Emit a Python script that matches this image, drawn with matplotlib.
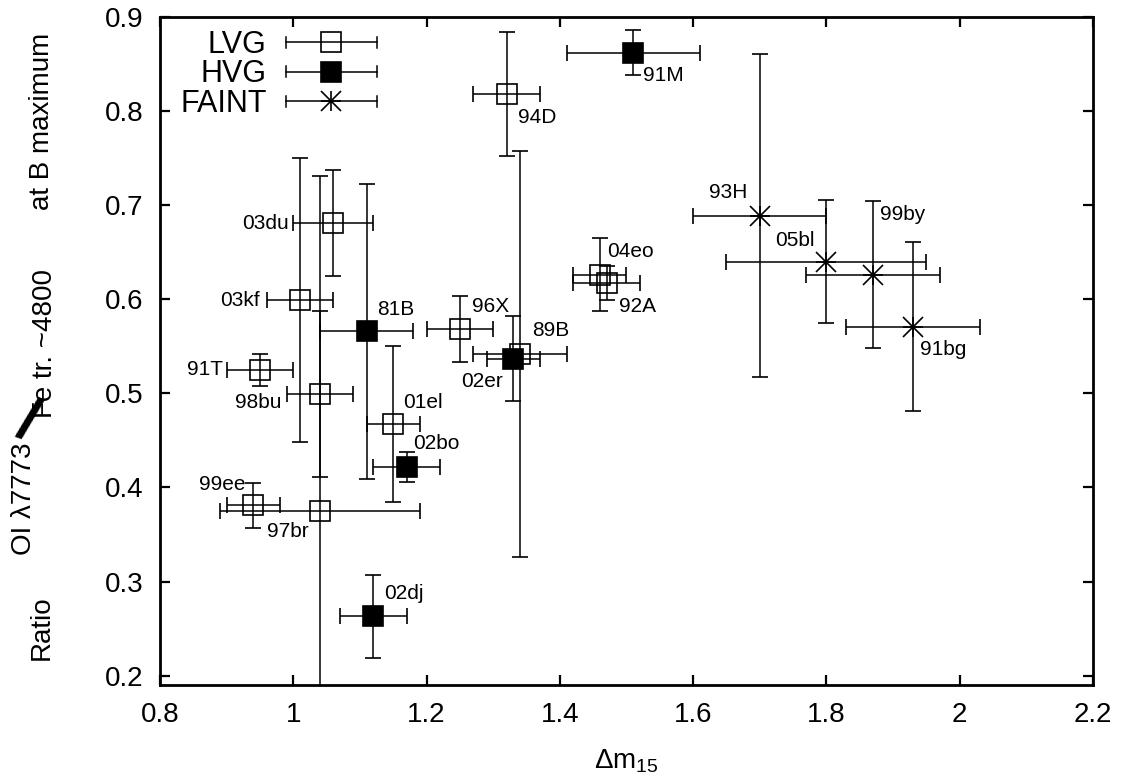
import matplotlib
matplotlib.use("Agg")
import matplotlib.pyplot as plt
from matplotlib.lines import Line2D
from matplotlib.legend_handler import HandlerBase

plt.rcParams['font.family'] = ['Liberation Sans', 'DejaVu Sans']
plt.rcParams['mathtext.fontset'] = 'custom'
plt.rcParams['mathtext.rm'] = 'Liberation Sans'
plt.rcParams['mathtext.it'] = 'Liberation Sans:italic'

# ---------------- data ----------------
lvg_names = ['94D', '03du', '03kf', '91T', '98bu', '01el', '99ee', '97br', '96X', '89B', '04eo', '92A']
lvg_x = [1.32, 1.06, 1.01, 0.95, 1.04, 1.15, 0.94, 1.04, 1.25, 1.34, 1.46, 1.47]
lvg_xerr = [0.05, 0.06, 0.05, 0.05, 0.05, 0.04, 0.04, 0.15, 0.05, 0.07, 0.04, 0.05]
lvg_y = [0.818, 0.681, 0.599, 0.525, 0.499, 0.467, 0.381, 0.375, 0.568, 0.542, 0.626, 0.617]
lvg_yerr = [0.066, 0.056, 0.151, 0.017, 0.088, 0.083, 0.024, 0.356, 0.035, 0.216, 0.039, 0.018]

hvg_names = ['91M', '81B', '02bo', '02dj', '02er']
hvg_x = [1.51, 1.11, 1.17, 1.12, 1.33]
hvg_xerr = [0.10, 0.07, 0.05, 0.05, 0.04]
hvg_y = [0.862, 0.566, 0.422, 0.263, 0.537]
hvg_yerr = [0.024, 0.157, 0.016, 0.044, 0.045]

faint_names = ['93H', '05bl', '99by', '91bg']
faint_x = [1.70, 1.80, 1.87, 1.93]
faint_xerr = [0.10, 0.15, 0.10, 0.10]
faint_y = [0.689, 0.640, 0.626, 0.571]
faint_yerr = [0.172, 0.065, 0.078, 0.090]

x_ticks = [0.8, 1.0, 1.2, 1.4, 1.6, 1.8, 2.0, 2.2]
x_ticklabels = ['0.8', '1', '1.2', '1.4', '1.6', '1.8', '2', '2.2']
y_ticks = [0.2, 0.3, 0.4, 0.5, 0.6, 0.7, 0.8, 0.9]

# label placement (offset in pixels, horizontal alignment)
label_style = {
    '94D': (11, -23, 'left'), '91M': (10, -23, 'left'), '03du': (-44, 0, 'right'),
    '03kf': (-40, 0, 'right'), '81B': (11, 22, 'left'), '91T': (-37, 0, 'right'),
    '98bu': (-38, -8, 'right'), '01el': (10, 22, 'left'), '02bo': (7, 23, 'left'),
    '99ee': (-8, 21, 'right'), '97br': (-11, -21, 'right'), '02dj': (11, 23, 'left'),
    '96X': (12, 23, 'left'), '89B': (12, 23, 'left'), '02er': (-10, -23, 'right'),
    '04eo': (7, 23, 'left'), '92A': (12, -23, 'left'), '93H': (-12, 23, 'right'),
    '99by': (7, 60, 'left'), '05bl': (-12, 21, 'right'), '91bg': (7, -23, 'left'),
}

# ---------------- figure ----------------
fig = plt.figure(figsize=(11.26, 7.82), dpi=100)
ax = fig.add_axes([160 / 1126, 97 / 782, 933 / 1126, 668 / 782])

eb_kw = dict(ecolor='black', elinewidth=1.1, capsize=6, capthick=1.1, linestyle='none')

ax.errorbar(lvg_x, lvg_y, xerr=lvg_xerr, yerr=lvg_yerr, marker='s', markersize=14,
            mfc='none', mec='black', mew=1.2, **eb_kw)
ax.errorbar(hvg_x, hvg_y, xerr=hvg_xerr, yerr=hvg_yerr, marker='s', markersize=14,
            mfc='black', mec='black', mew=1.2, **eb_kw)
ax.errorbar(faint_x, faint_y, xerr=faint_xerr, yerr=faint_yerr, marker='x', markersize=14,
            mfc='black', mec='black', mew=1.2, **eb_kw)
ax.plot(faint_x, faint_y, linestyle='none', marker='+', markersize=14, mec='black', mew=1.2)

for names, xs, ys in ((lvg_names, lvg_x, lvg_y), (hvg_names, hvg_x, hvg_y),
                      (faint_names, faint_x, faint_y)):
    for n, xv, yv in zip(names, xs, ys):
        dx, dy, ha = label_style[n]
        ax.annotate(n, (xv, yv), xytext=(dx, dy), textcoords='offset pixels',
                    ha=ha, va='center', fontsize=15)

ax.set_xlim(0.8, 2.2)
ax.set_ylim(0.19, 0.9)
ax.set_xticks(x_ticks)
ax.set_xticklabels(x_ticklabels)
ax.set_yticks(y_ticks)
ax.set_yticklabels([f'{v:.1f}' for v in y_ticks])
ax.tick_params(direction='in', length=7, width=1.6, top=True, right=True,
               labelsize=20, pad=12)
for s in ax.spines.values():
    s.set_linewidth(2.0)

ax.set_xlabel('Δm$_{\\mathrm{15}}$', fontsize=20, labelpad=14)


# ---------------- legend ----------------
class HandlerEB(HandlerBase):
    def __init__(self, marker, mfc, extra=None):
        super().__init__()
        self.marker = marker
        self.mfc = mfc
        self.extra = extra

    def create_artists(self, legend, orig_handle, xdescent, ydescent, width, height,
                       fontsize, trans):
        y = height / 2 - ydescent
        x0, x1 = -xdescent, width - xdescent
        arts = [Line2D([x0, x1], [y, y], color='black', lw=1.1, transform=trans),
                Line2D([x0, x0], [y - 4, y + 4], color='black', lw=1.1, transform=trans),
                Line2D([x1, x1], [y - 4, y + 4], color='black', lw=1.1, transform=trans),
                Line2D([(x0 + x1) / 2], [y], marker=self.marker, markersize=14,
                       mfc=self.mfc, mec='black', mew=1.2, linestyle='none', transform=trans)]
        if self.extra:
            arts.append(Line2D([(x0 + x1) / 2], [y], marker=self.extra, markersize=14,
                               mec='black', mew=1.2, linestyle='none', transform=trans))
        return arts


h1, h2, h3 = Line2D([], []), Line2D([], []), Line2D([], [])
ax.legend([h1, h2, h3], ['LVG', 'HVG', 'FAINT'],
          handler_map={h1: HandlerEB('s', 'none'), h2: HandlerEB('s', 'black'),
                       h3: HandlerEB('x', 'black', '+')},
          loc='upper left', bbox_to_anchor=(0.015, 0.99), frameon=False, markerfirst=False,
          fontsize=22, handlelength=3.0, handletextpad=0.62, labelspacing=-0.01,
          borderaxespad=0.0, borderpad=0.2)

# ---------------- y label pieces ----------------
fig.text(42 / 1126, 1 - 628 / 782, 'Ratio', rotation=90, ha='center', va='center', fontsize=20)
fig.text(24 / 1126, 1 - 499 / 782, 'OI λ7773', rotation=90, ha='center', va='center', fontsize=20)
fig.text(27 / 1126, 1 - 423 / 782, '/', rotation=-20, ha='center', va='center', fontsize=44,
         fontweight='bold')
fig.text(45 / 1126, 1 - 343 / 782, 'Fe tr. ~4800', rotation=90, ha='center', va='center', fontsize=20)
fig.text(42 / 1126, 1 - 121 / 782, 'at B maximum', rotation=90, ha='center', va='center', fontsize=20)

fig.savefig('out.png', dpi=100)
